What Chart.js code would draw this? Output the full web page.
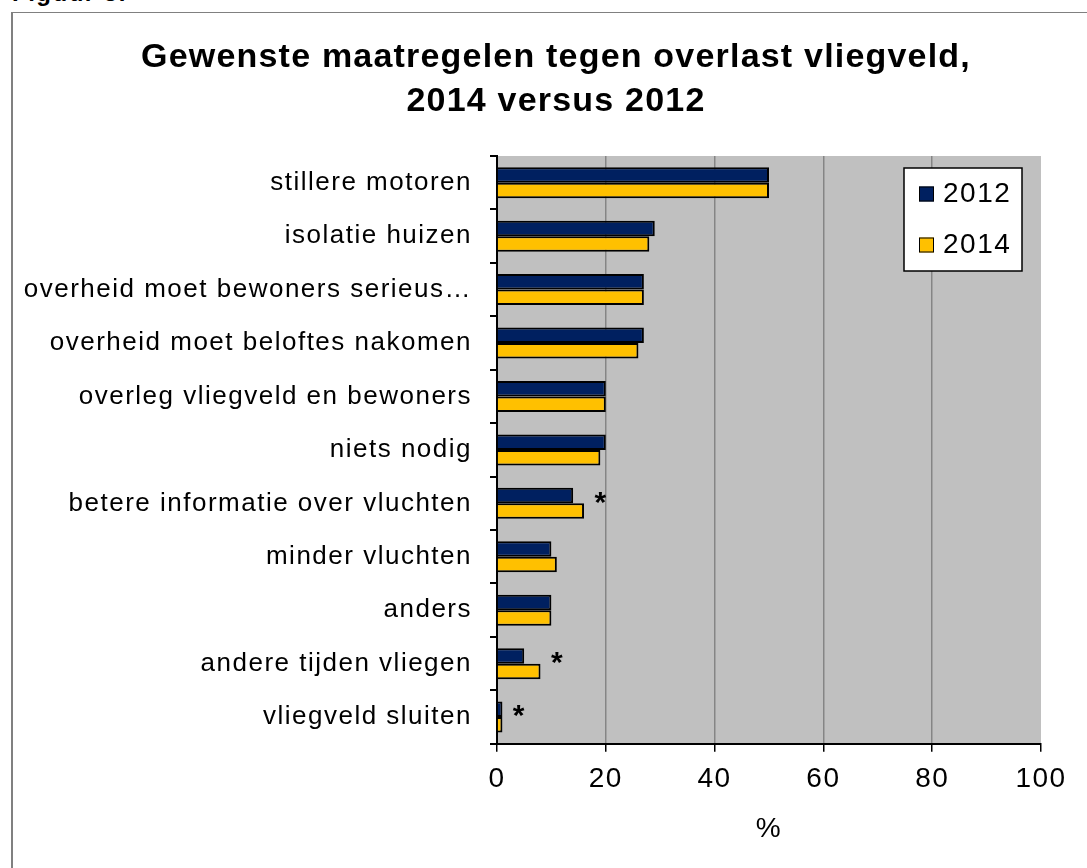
<!DOCTYPE html>
<html><head><meta charset="utf-8">
<script src="https://cdn.jsdelivr.net/npm/chart.js@4.4.1/dist/chart.umd.min.js"></script>
<style>
html,body{margin:0;padding:0;background:#fff;width:1087px;height:868px;overflow:hidden;position:relative;}
#fig{position:absolute;left:12px;top:-21px;font:bold 24px "Liberation Sans",Arial,sans-serif;letter-spacing:1.5px;color:#000;}
#frame{position:absolute;left:11px;top:12px;width:1100px;height:900px;border-left:2px solid #808080;border-top:1px solid #808080;}
#wrap{position:absolute;left:0;top:0;width:1087px;height:868px;}
</style></head><body>
<div id="fig">Figuur 8.</div>
<div id="frame"></div>
<div id="wrap"><canvas id="c" width="1087" height="868"></canvas></div>
<script>
const titleLines = ['Gewenste maatregelen tegen overlast vliegveld,', '2014 versus 2012'];
const categories = [
  'stillere motoren',
  'isolatie huizen',
  'overheid moet bewoners serieus…',
  'overheid moet beloftes nakomen',
  'overleg vliegveld en bewoners',
  'niets nodig',
  'betere informatie over vluchten',
  'minder vluchten',
  'anders',
  'andere tijden vliegen',
  'vliegveld sluiten'
];
const values2012 = [50, 29, 27, 27, 20, 20, 14, 10, 10, 5, 1];
const values2014 = [50, 28, 27, 26, 20, 19, 16, 11, 10, 8, 1];
const significant = [false, false, false, false, false, false, true, false, false, true, true];
const seriesLabels = ['2012', '2014'];
const xTicks = [0, 20, 40, 60, 80, 100];
const xAxisTitle = '%';

const FONT = '"Liberation Sans", Arial, sans-serif';

const spacingPlugin = {
  id: 'spacing',
  beforeDraw(chart) { chart.ctx.letterSpacing = '1.5px'; }
};
const bgPlugin = {
  id: 'bg',
  beforeDraw(chart) {
    const {ctx, chartArea: a} = chart;
    ctx.save();
    ctx.fillStyle = '#C0C0C0';
    ctx.fillRect(a.left, a.top, a.right - a.left, a.bottom - a.top);
    ctx.restore();
  }
};
const titlePlugin = {
  id: 'twoLineTitle',
  afterDraw(chart) {
    const ctx = chart.ctx;
    ctx.save();
    ctx.letterSpacing = '1.2px';
    ctx.font = 'bold 34px ' + FONT;
    ctx.fillStyle = '#000';
    ctx.textAlign = 'center';
    ctx.textBaseline = 'alphabetic';
    titleLines.forEach((t, i) => ctx.fillText(t, 556, 67 + i * 44));
    ctx.restore();
  }
};
const starPlugin = {
  id: 'stars',
  afterDatasetsDraw(chart) {
    const {ctx, scales: {x, y}} = chart;
    ctx.save();
    ctx.font = 'bold 30px ' + FONT;
    ctx.fillStyle = '#000';
    ctx.textAlign = 'center';
    ctx.textBaseline = 'middle';
    significant.forEach((s, i) => {
      if (!s) return;
      const v = Math.max(values2012[i], values2014[i]);
      ctx.fillText('*', x.getPixelForValue(v) + 17, y.getPixelForValue(i));
    });
    ctx.restore();
  }
};
const legendPlugin = {
  id: 'boxLegend',
  afterDraw(chart) {
    const {ctx, chartArea: a} = chart;
    const w = 118, h = 103;
    const left = a.right - 19 - w, top = a.top + 12;
    ctx.save();
    ctx.fillStyle = '#fff';
    ctx.fillRect(left, top, w, h);
    ctx.strokeStyle = '#000';
    ctx.lineWidth = 1.5;
    ctx.strokeRect(left, top, w, h);
    chart.data.datasets.forEach((ds, i) => {
      const cy = top + 26 + i * 51;
      ctx.fillStyle = ds.backgroundColor;
      ctx.fillRect(left + 15, cy - 7.5, 15, 15);
      ctx.lineWidth = 1;
      ctx.strokeRect(left + 15.5, cy - 7, 14, 14);
      ctx.fillStyle = '#000';
      ctx.font = '28px ' + FONT;
      ctx.textBaseline = 'middle';
      ctx.textAlign = 'left';
      ctx.fillText(ds.label, left + 39, cy);
    });
    ctx.restore();
  }
};

new Chart(document.getElementById('c'), {
  type: 'bar',
  data: {
    labels: categories,
    datasets: [
      {label: seriesLabels[0], data: values2012, backgroundColor: '#002060', borderColor: '#000', borderWidth: 2,
       categoryPercentage: 0.58, barPercentage: 1},
      {label: seriesLabels[1], data: values2014, backgroundColor: '#FFC000', borderColor: '#000', borderWidth: 2,
       categoryPercentage: 0.58, barPercentage: 1}
    ]
  },
  options: {
    indexAxis: 'y',
    responsive: false,
    animation: false,
    layout: {padding: {left: 20, right: 46, top: 156, bottom: 22}},
    plugins: {
      legend: {display: false},
      tooltip: {enabled: false},
      title: {display: false}
    },
    scales: {
      y: {
        grid: {display: true, drawOnChartArea: false, offset: true, tickLength: 7, color: '#000', lineWidth: 2},
        border: {display: true, color: '#000', width: 2},
        ticks: {color: '#000', font: {family: FONT, size: 26}, padding: 18, autoSkip: false},
        afterFit(s) { s.width = 477; }
      },
      x: {
        min: xTicks[0], max: xTicks[xTicks.length - 1],
        afterBuildTicks(s) { s.ticks = xTicks.map(v => ({value: v})); },
        grid: {
          color: c => (c.tick && (c.tick.value === 0 || c.tick.value === 100)) ? 'rgba(0,0,0,0)' : '#858585',
          tickColor: '#000', tickLength: 8, lineWidth: 1.5
        },
        border: {display: true, color: '#000', width: 2},
        ticks: {color: '#000', font: {family: FONT, size: 28}, padding: 11, maxRotation: 0},
        title: {display: true, text: xAxisTitle, color: '#000', font: {family: FONT, size: 28}, padding: {top: 5, bottom: 0}}
      }
    }
  },
  plugins: [spacingPlugin, bgPlugin, starPlugin, legendPlugin, titlePlugin]
});
</script>
</body></html>
